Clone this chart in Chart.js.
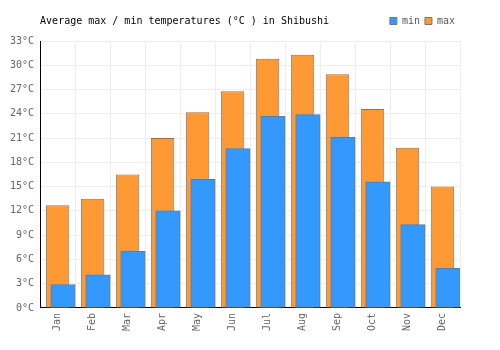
<!DOCTYPE html>
<html>
<head>
<meta charset="utf-8">
<script src="https://cdn.jsdelivr.net/npm/chart.js@4/dist/chart.umd.min.js"></script>
<style>
  html, body { margin: 0; padding: 0; background: #fff; }
  #wrap { width: 500px; height: 350px; position: relative; }
</style>
</head>
<body>
<div id="wrap"><canvas id="c"></canvas></div>
<script>
const months = ['Jan','Feb','Mar','Apr','May','Jun','Jul','Aug','Sep','Oct','Nov','Dec'];
const minTemps = [2.9, 4.1, 7.0, 12.0, 15.9, 19.7, 23.7, 23.9, 21.1, 15.6, 10.3, 4.9];
const maxTemps = [12.7, 13.5, 16.5, 21.0, 24.2, 26.8, 30.8, 31.3, 28.9, 24.6, 19.8, 15.0];
const yMin = 0, yMax = 33, yStep = 3;
const titleText = 'Average max / min temperatures (°C ) in Shibushi';

const FONT = 'DejaVu Sans Mono';
const minShift = 0.155; // horizontal offset of min bars, in categories

const minPoints = minTemps.map((v, i) => ({ x: i, y: v }));

new Chart(document.getElementById('c'), {
  type: 'bar',
  data: {
    labels: months,
    datasets: [
      {
        label: 'min',
        data: minPoints,
        xAxisID: 'x2',
        backgroundColor: '#3399ff',
        borderColor: '#777777',
        borderWidth: 1,
        barThickness: 24.5,
        grouped: false
      },
      {
        label: 'max',
        data: maxTemps,
        xAxisID: 'x',
        backgroundColor: '#ff9933',
        borderColor: '#777777',
        borderWidth: 1,
        categoryPercentage: 1,
        barPercentage: 0.67,
        grouped: false
      }
    ]
  },
  options: {
    responsive: true,
    maintainAspectRatio: false,
    animation: false,
    layout: { padding: { top: 11, left: 4, right: 40, bottom: 14 } },
    plugins: {
      tooltip: { enabled: false },
      legend: {
        position: 'top',
        align: 'end',
        fullSize: false,
        weight: 1000,
        labels: {
          boxWidth: 7,
          boxHeight: 7,
          padding: 5,
          color: '#555',
          font: { family: FONT, size: 10 }
        }
      },
      title: {
        display: true,
        text: titleText,
        align: 'start',
        position: 'top',
        fullSize: false,
        weight: 1,
        color: '#000',
        font: { family: FONT, size: 10, weight: 'normal', lineHeight: 1.2 },
        padding: { top: -21, bottom: 14 }
      }
    },
    scales: {
      x: {
        type: 'category',
        offset: true,
        grid: { color: '#eeeeee', lineWidth: 1, offset: true, drawTicks: false },
        border: { color: '#000', width: 1 },
        ticks: {
          color: '#666',
          font: { family: FONT, size: 10 },
          minRotation: 90,
          maxRotation: 90,
          autoSkip: false,
          padding: 5
        }
      },
      x2: {
        type: 'linear',
        display: false,
        offset: false,
        min: -0.5 - minShift,
        max: months.length - 0.5 - minShift,
        grid: { display: false }
      },
      y: {
        min: yMin,
        max: yMax,
        grid: { color: '#eeeeee', lineWidth: 1, drawTicks: false },
        border: { color: '#000', width: 1 },
        ticks: {
          stepSize: yStep,
          color: '#666',
          font: { family: FONT, size: 10 },
          padding: 6,
          callback: v => v + '°C'
        }
      }
    }
  }
});
</script>
</body>
</html>
